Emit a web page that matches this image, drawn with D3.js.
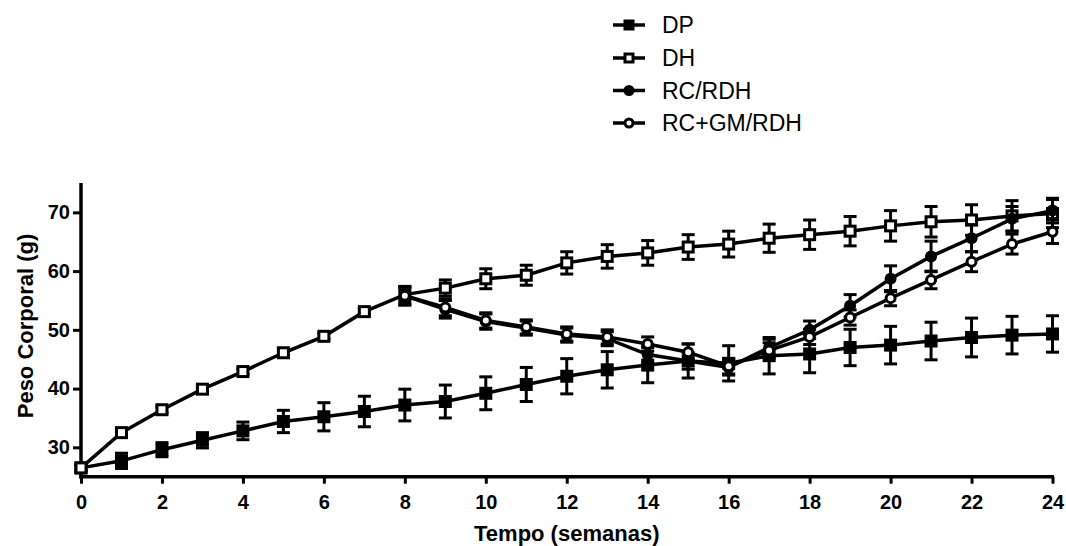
<!DOCTYPE html>
<html>
<head>
<meta charset="utf-8">
<script src="https://cdn.jsdelivr.net/npm/d3@7/dist/d3.min.js"></script>
<style>
html,body{margin:0;padding:0;background:#fff;}
svg{display:block;font-family:"Liberation Sans",Arial,Helvetica,sans-serif;}
</style>
</head>
<body>
<svg id="chart" width="1066" height="546"></svg>
<script>
// ---- data ----
const weeks = [0,1,2,3,4,5,6,7,8,9,10,11,12,13,14,15,16,17,18,19,20,21,22,23,24];
const dpMean = [26.5,27.7,29.6,31.2,32.8,34.4,35.2,36.1,37.2,37.8,39.2,40.7,42.1,43.2,44.0,44.7,44.3,45.6,45.9,47.0,47.4,48.1,48.7,49.1,49.3];
const dpErr  = [0.6,1.3,1.2,1.3,1.5,1.9,2.4,2.6,2.7,2.8,2.8,2.9,3.0,3.1,3.0,2.9,3.0,3.1,3.2,3.1,3.2,3.2,3.3,3.2,3.1];
const dhMean = [26.5,32.5,36.4,39.9,42.9,46.1,48.9,53.1,56.0,57.1,58.7,59.3,61.4,62.5,63.1,64.1,64.6,65.6,66.2,66.8,67.7,68.4,68.7,69.4,69.8];
const dhErr  = [0.4,0.5,0.5,0.5,0.5,0.5,0.5,0.5,1.3,1.4,1.7,1.7,1.9,2.0,2.1,2.1,2.2,2.4,2.5,2.5,2.6,2.6,2.6,2.6,2.4];
const rcWeeks = [8,9,10,11,12,13,14,15,16,17,18,19,20,21,22,23,24];
const rcMean  = [55.8,53.5,51.4,50.3,49.1,48.5,45.8,44.7,43.6,47.0,50.0,54.1,58.7,62.5,65.6,68.9,70.3];
const rcErr   = [1.6,1.5,1.3,1.2,1.2,1.2,1.5,1.4,1.3,1.4,1.5,1.9,2.2,2.6,2.3,2.1,2.1];
const rcgmMean = [55.8,53.8,51.6,50.5,49.3,48.8,47.6,46.2,43.8,46.5,48.8,52.1,55.4,58.5,61.6,64.6,66.7];
const rcgmErr  = [1.5,1.4,1.3,1.2,1.2,1.2,1.2,1.4,1.3,1.3,1.3,1.3,1.3,1.5,1.7,1.7,2.0];
const seriesNames = ["DP","DH","RC/RDH","RC+GM/RDH"];
const xTicks = [0,2,4,6,8,10,12,14,16,18,20,22,24];
const yTicks = [30,40,50,60,70];
const xTitle = "Tempo (semanas)";
const yTitle = "Peso Corporal (g)";

// ---- layout ----
const svg = d3.select("#chart");
const X0 = 81, X1 = 1052.5, Y0 = 476.7, Y1 = 183;
const x = d3.scaleLinear().domain([0,24]).range([X0,X1]);
const y = d3.scaleLinear().domain([25,75]).range([Y0,Y1]);

const series = [
  {name:seriesNames[0], w:weeks,   m:dpMean,   e:dpErr,   shape:"square", fill:"#000"},
  {name:seriesNames[1], w:weeks,   m:dhMean,   e:dhErr,   shape:"square", fill:"#fff"},
  {name:seriesNames[2], w:rcWeeks, m:rcMean,   e:rcErr,   shape:"circle", fill:"#000"},
  {name:seriesNames[3], w:rcWeeks, m:rcgmMean, e:rcgmErr, shape:"circle", fill:"#fff"}
];

// axes
const axisW = 3.5;
const gx = svg.append("g").attr("transform",`translate(0,${Y0})`)
  .call(d3.axisBottom(x).tickValues(xTicks).tickSize(7).tickPadding(6).tickFormat(d3.format("d")));
const gy = svg.append("g").attr("transform",`translate(${X0},0)`)
  .call(d3.axisLeft(y).tickValues(yTicks).tickSize(8).tickPadding(3).tickFormat(d3.format("d")));
[gx,gy].forEach(g=>{
  g.select(".domain").remove();
  g.selectAll(".tick line").attr("stroke","#000").attr("stroke-width",3);
  g.selectAll(".tick text").attr("fill","#000").style("font-size","20px").style("font-weight","bold")
   .style("font-family",'"Liberation Sans",Arial,sans-serif');
});
gx.selectAll(".tick text").attr("dy","0.95em");
svg.append("line").attr("x1",X0-1.75).attr("x2",X1+1.5).attr("y1",Y0).attr("y2",Y0)
  .attr("stroke","#000").attr("stroke-width",axisW);
svg.append("line").attr("x1",X0).attr("x2",X0).attr("y1",Y1).attr("y2",Y0+1.75)
  .attr("stroke","#000").attr("stroke-width",axisW);

// titles
svg.append("text").attr("x",(X0+X1)/2+0).attr("y",541).attr("text-anchor","middle")
  .style("font-size","22px").style("font-weight","bold").text(xTitle);
svg.append("text").attr("transform","translate(33,326) rotate(-90)").attr("text-anchor","middle")
  .style("font-size","22px").style("font-weight","bold").text(yTitle);

// series
const line = d3.line().x(d=>x(d[0])).y(d=>y(d[1]));
function drawMarker(g, shape, fill, cx, cy, size){
  if(shape==="square"){
    const s = fill==="#000" ? size : size-3;
    g.append("rect").attr("x",cx-s/2).attr("y",cy-s/2).attr("width",s).attr("height",s)
      .attr("fill",fill).attr("stroke","#000").attr("stroke-width",fill==="#000"?0:3);
  } else {
    const r = fill==="#000" ? size/2 : size/2-1.5;
    g.append("circle").attr("cx",cx).attr("cy",cy).attr("r",r)
      .attr("fill",fill).attr("stroke","#000").attr("stroke-width",fill==="#000"?0:3);
  }
}
series.forEach(s=>{
  const g = svg.append("g");
  const pts = s.w.map((w,i)=>[w,s.m[i],s.e[i]]);
  // error bars
  pts.forEach(p=>{
    const cx = x(p[0]), top = y(p[1]+p[2]), bot = y(p[1]-p[2]);
    g.append("line").attr("x1",cx).attr("x2",cx).attr("y1",top).attr("y2",bot).attr("stroke","#000").attr("stroke-width",3);
    [top,bot].forEach(yy=>g.append("line").attr("x1",cx-6.5).attr("x2",cx+6.5).attr("y1",yy).attr("y2",yy)
      .attr("stroke","#000").attr("stroke-width",3));
  });
  g.append("path").datum(pts).attr("d",line).attr("fill","none").attr("stroke","#000").attr("stroke-width",3.5);
  pts.forEach(p=>drawMarker(g, s.shape, s.fill, x(p[0]), y(p[1]), s.shape==="square"?13:12));
});

// legend
const legY = [25,58,90.5,123];
series.forEach((s,i)=>{
  const g = svg.append("g");
  g.append("line").attr("x1",613).attr("x2",645).attr("y1",legY[i]).attr("y2",legY[i]).attr("stroke","#000").attr("stroke-width",3.5);
  drawMarker(g, s.shape, s.fill, 629, legY[i], s.shape==="square"?11:11);
  g.append("text").attr("x",662).attr("y",legY[i]).attr("dy","0.36em").style("font-size","23px").text(s.name);
});
</script>
</body>
</html>
